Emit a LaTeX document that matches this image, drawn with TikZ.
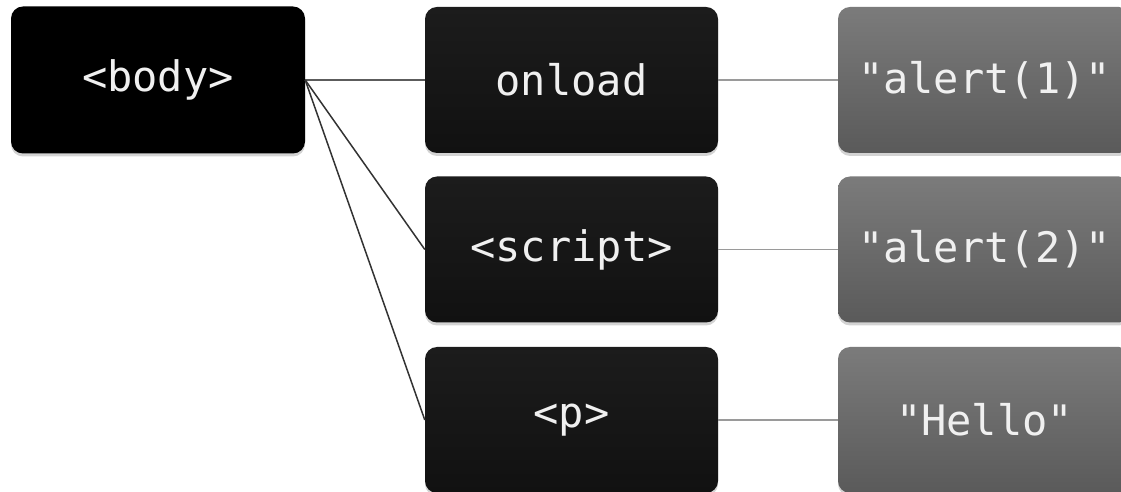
\documentclass[tikz,border=0pt]{standalone}
\usepackage{fontspec}
\newfontfamily\codefont{DejaVu Sans Mono}
\usetikzlibrary{shadows}
\definecolor{tagtop}{HTML}{1C1C1C}
\definecolor{tagbot}{HTML}{111111}
\definecolor{strtop}{HTML}{7B7B7B}
\definecolor{strbot}{HTML}{5A5A5A}
\definecolor{linkdark}{HTML}{333333}
\definecolor{linklight}{HTML}{9A9A9A}
\begin{document}
\begin{tikzpicture}[x=1pt,y=1pt,
  box/.style={rounded corners=12pt,minimum width=293pt,minimum height=146pt,
    inner sep=0pt,text=white!94!black,font=\codefont\fontsize{42}{50}\selectfont,
    drop shadow={opacity=0.35,shadow xshift=0pt,shadow yshift=-3pt}},
  tagbox/.style={box,top color=tagtop,bottom color=tagbot},
  strbox/.style={box,top color=strtop,bottom color=strbot},
  link/.style={line width=1.5pt}]
\useasboundingbox (0,0) rectangle (1121,492);
\node[box,fill=black,minimum width=294pt,minimum height=147pt] (body) at (158,412) {<body>};
\node[tagbox] (onload) at (571.5,412) {onload};
\node[tagbox] (script) at (571.5,242.5) {<script>};
\node[tagbox] (p) at (571.5,72) {<p>};
\node[strbox] (alert1) at (984.5,412) {"alert(1)"};
\node[strbox] (alert2) at (984.5,242.5) {"alert(2)"};
\node[strbox] (hello) at (984.5,72) {"Hello"};
\draw[link,color=linkdark!80!white] (body.east) -- (onload.west);
\draw[link,color=linkdark] (body.east) -- (script.west);
\draw[link,color=linkdark] (body.east) -- (p.west);
\draw[link,color=linklight] (onload.east) -- (alert1.west);
\draw[link,color=linklight] (script.east) -- (alert2.west);
\draw[link,color=linklight] (p.east) -- (hello.west);
\end{tikzpicture}
\end{document}
